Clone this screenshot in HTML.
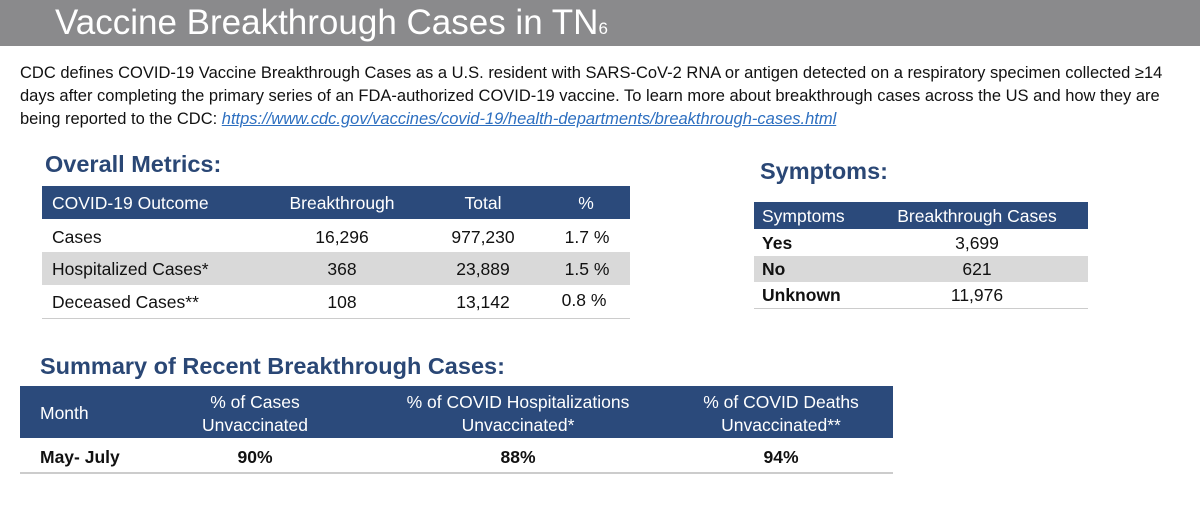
<!DOCTYPE html>
<html><head><meta charset="utf-8"><style>
*{margin:0;padding:0;box-sizing:border-box}
body{width:1200px;height:526px;background:#fff;position:relative;overflow:hidden;font-family:"Liberation Sans",sans-serif;color:#111}
.a{position:absolute;white-space:nowrap}
.bar{position:absolute;left:0;top:0;width:1200px;height:46px;background:#8a8a8c}
.h{color:#2a4775;font-weight:bold;font-size:23.5px}
.hd{background:#2b4a7b;color:#fff}
.c{position:absolute;text-align:center;transform:translateX(-50%)}
</style></head><body>
<div class="bar"></div>
<div class="a" style="left:55px;top:3px;font-size:35px;color:#fff">Vaccine Breakthrough Cases in TN<span style="font-size:17px">6</span></div>
<div class="a" style="left:20px;top:62px;font-size:16.5px;line-height:23px;color:#111">CDC defines COVID-19 Vaccine Breakthrough Cases as a U.S. resident with SARS-CoV-2 RNA or antigen detected on a respiratory specimen collected ≥14<br>days after completing the primary series of an FDA-authorized COVID-19 vaccine. To learn more about breakthrough cases across the US and how they are<br>being reported to the CDC: <a style="color:#2d6fc0;font-style:italic;text-decoration:underline">https://www.cdc.gov/vaccines/covid-19/health-departments/breakthrough-cases.html</a></div>

<div class="a h" style="left:45px;top:151px">Overall Metrics:</div>
<div>
<div class="a hd" style="left:42px;top:186px;width:588px;height:33px"></div>
<div class="a" style="left:42px;top:252px;width:588px;height:33px;background:#d9d9d9"></div>
<div class="a" style="left:42px;top:318px;width:588px;height:1px;background:#ccc"></div>
<div style="font-size:17.5px">
<div class="a" style="left:52px;top:193px;color:#fff">COVID-19 Outcome</div>
<div class="c" style="left:342px;top:193px;color:#fff">Breakthrough</div>
<div class="c" style="left:483px;top:193px;color:#fff">Total</div>
<div class="c" style="left:586px;top:193px;color:#fff">%</div>
<div class="a" style="left:52px;top:227px">Cases</div>
<div class="c" style="left:342px;top:227px">16,296</div>
<div class="c" style="left:483px;top:227px">977,230</div>
<div class="c" style="left:587px;top:227px">1.7 %</div>
<div class="a" style="left:52px;top:259px">Hospitalized Cases*</div>
<div class="c" style="left:342px;top:259px">368</div>
<div class="c" style="left:483px;top:259px">23,889</div>
<div class="c" style="left:587px;top:259px">1.5 %</div>
<div class="a" style="left:52px;top:292px">Deceased Cases**</div>
<div class="c" style="left:342px;top:292px">108</div>
<div class="c" style="left:483px;top:292px">13,142</div>
<div class="c" style="left:584px;top:290px">0.8 %</div>
</div></div>

<div class="a h" style="left:760px;top:158px">Symptoms:</div>
<div style="font-size:17.5px">
<div class="a hd" style="left:754px;top:202px;width:334px;height:27px"></div>
<div class="a" style="left:754px;top:256px;width:334px;height:26px;background:#d9d9d9"></div>
<div class="a" style="left:754px;top:308px;width:334px;height:1px;background:#ccc"></div>
<div class="a" style="left:762px;top:206px;color:#fff">Symptoms</div>
<div class="c" style="left:977px;top:206px;color:#fff">Breakthrough Cases</div>
<div class="a" style="left:762px;top:233px;font-weight:bold">Yes</div>
<div class="c" style="left:977px;top:233px">3,699</div>
<div class="a" style="left:762px;top:259px;font-weight:bold">No</div>
<div class="c" style="left:977px;top:259px">621</div>
<div class="a" style="left:762px;top:285px;font-weight:bold">Unknown</div>
<div class="c" style="left:977px;top:285px">11,976</div>
</div>

<div class="a h" style="left:40px;top:353px">Summary of Recent Breakthrough Cases:</div>
<div style="font-size:17.5px">
<div class="a hd" style="left:20px;top:386px;width:873px;height:52px"></div>
<div class="a" style="left:20px;top:472px;width:873px;height:2px;background:#ccc"></div>
<div class="a" style="left:40px;top:403px;color:#fff">Month</div>
<div class="c" style="left:255px;top:391px;color:#fff;line-height:23px">% of Cases<br>Unvaccinated</div>
<div class="c" style="left:518px;top:391px;color:#fff;line-height:23px">% of COVID Hospitalizations<br>Unvaccinated*</div>
<div class="c" style="left:781px;top:391px;color:#fff;line-height:23px">% of COVID Deaths<br>Unvaccinated**</div>
<div class="a" style="left:40px;top:447px;font-weight:bold">May- July</div>
<div class="c" style="left:255px;top:447px;font-weight:bold">90%</div>
<div class="c" style="left:518px;top:447px;font-weight:bold">88%</div>
<div class="c" style="left:781px;top:447px;font-weight:bold">94%</div>
</div>
</body></html>
